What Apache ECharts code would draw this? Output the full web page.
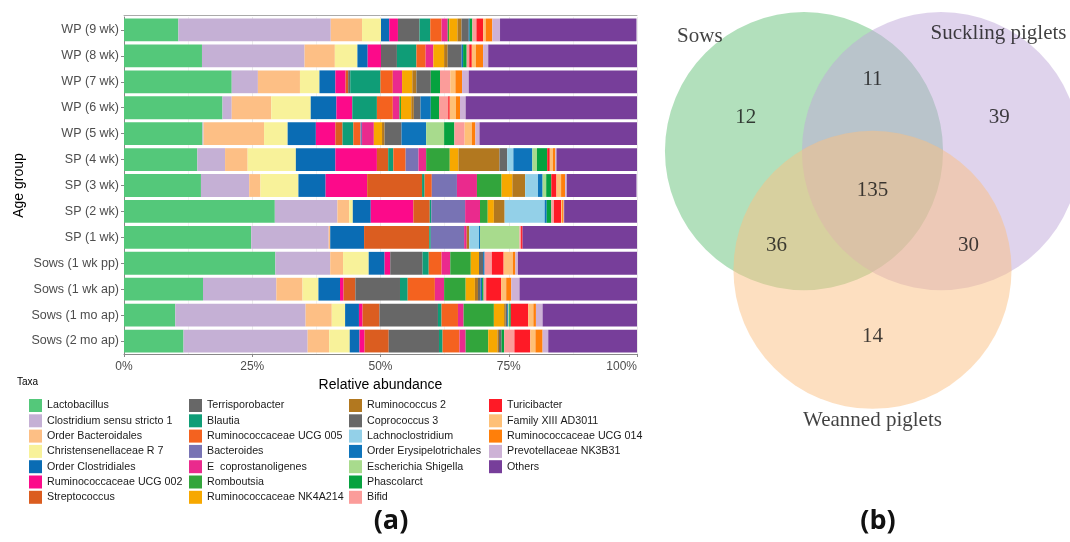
<!DOCTYPE html>
<html>
<head>
<meta charset="utf-8">
<script src="https://cdn.jsdelivr.net/npm/echarts@6/dist/echarts.min.js"></script>
<style>
  html, body { margin: 0; padding: 0; background: #fff; }
  #chart { width: 1070px; height: 542px; }
</style>
</head>
<body>
<div id="chart"></div>
<script>
// age groups, top to bottom
const groups = ['WP (9 wk)', 'WP (8 wk)', 'WP (7 wk)', 'WP (6 wk)', 'WP (5 wk)',
  'SP (4 wk)', 'SP (3 wk)', 'SP (2 wk)', 'SP (1 wk)',
  'Sows (1 wk pp)', 'Sows (1 wk ap)', 'Sows (1 mo ap)', 'Sows (2 mo ap)'];

// relative abundance (%) per taxon, same order as groups
const lactobacillus   = [10.6, 15.2, 21.0, 19.2, 15.3, 14.3, 15.0, 29.4, 24.8, 29.5, 15.4, 10.0, 11.6];
const clostridium     = [29.7, 20.0, 5.1, 1.8, 0.2, 5.4, 9.4, 12.2, 15.1, 10.7, 14.3, 25.4, 24.2];
const ordBacteroidales = [6.1, 5.9, 8.2, 7.7, 11.8, 4.4, 2.2, 2.3, 0.3, 2.5, 5.1, 5.1, 4.2];
const christensenella = [3.7, 4.4, 3.8, 7.7, 4.6, 9.4, 7.4, 0.7, 0, 5.0, 3.1, 2.6, 4.0];
const ordClostridiales = [1.6, 2.0, 3.1, 5.0, 5.5, 7.7, 5.3, 3.5, 6.6, 3.1, 4.2, 2.7, 1.9];
const rumUCG002       = [1.7, 2.6, 2.0, 3.1, 3.8, 8.1, 8.1, 8.3, 0, 1.1, 0.7, 0.7, 1.0];
const streptococcus   = [0, 0, 0.5, 0, 1.4, 2.2, 10.7, 3.2, 12.7, 0, 2.3, 3.3, 4.7];
const terrisporobacter = [4.2, 3.1, 0.4, 0, 0, 0, 0, 0, 0, 6.3, 8.7, 11.4, 9.8];
const blautia         = [2.1, 3.8, 5.9, 4.8, 2.1, 1.0, 0.5, 0.3, 0.3, 1.2, 1.5, 0.7, 0.7];
const rumUCG005       = [2.2, 1.8, 2.4, 3.1, 1.4, 2.4, 1.4, 0, 0, 2.5, 5.3, 3.2, 3.3];
const bacteroides     = [0, 0, 0, 0, 0.3, 2.5, 4.9, 6.6, 6.5, 0, 0, 0, 0];
const eCopro          = [1.2, 1.5, 1.8, 1.3, 2.3, 1.5, 3.9, 2.9, 0.5, 1.7, 1.8, 1.1, 1.2];
const romboutsia      = [0.3, 0, 0, 0.3, 0, 4.6, 4.8, 1.5, 0, 4.0, 4.2, 5.9, 4.4];
const rumNK4A214      = [1.6, 2.1, 2.0, 2.0, 1.6, 1.7, 2.1, 1.2, 0, 1.6, 1.8, 2.0, 1.8];
const ruminococcus2   = [0.8, 0.7, 0.8, 0.5, 0.5, 8.0, 2.5, 2.1, 0.5, 0, 0.6, 0.3, 0.3];
const coprococcus3    = [1.4, 2.7, 2.8, 1.3, 3.3, 1.5, 0, 0, 0, 0.8, 0.5, 0.3, 0.5];
const lachnoclostridium = [0, 0, 0, 0, 0, 1.2, 2.5, 7.8, 1.9, 0, 0, 0, 0];
const ordErysipelo    = [0.2, 0.3, 0, 2.0, 4.8, 3.7, 0.9, 0.4, 0.2, 0.3, 0.3, 0.2, 0];
const escherichia     = [0, 0, 0, 0, 3.5, 0.9, 0.7, 0, 7.7, 0, 0, 0.2, 0];
const phascolarct     = [0.5, 0.7, 1.8, 1.6, 2.0, 2.0, 1.0, 0.9, 0, 0, 0.3, 0.3, 0.5];
const bifid           = [0.8, 0.5, 2.0, 1.8, 2.0, 0, 0, 0.5, 0.3, 1.4, 0.5, 0, 2.0];
const turicibacter    = [1.3, 0.5, 0, 0.3, 0, 0.5, 1.0, 1.4, 0.3, 2.3, 2.9, 3.4, 3.1];
const familyXIII      = [0.5, 0.8, 1.0, 1.2, 1.4, 0.6, 0.9, 0.2, 0, 1.8, 1.0, 1.0, 1.0];
const rumUCG014       = [1.3, 1.4, 1.3, 0.8, 0.7, 0.5, 0.8, 0.3, 0, 0.5, 1.0, 0.5, 1.4];
const prevotellaceae  = [1.5, 1.0, 1.3, 1.1, 0.8, 0.2, 0.3, 0.1, 0, 0.5, 1.6, 1.3, 1.1];
const others          = [26.6, 29.0, 32.9, 33.5, 30.7, 15.8, 13.6, 14.2, 22.3, 23.2, 23.0, 18.6, 17.5];

const taxa = ['Lactobacillus', 'Clostridium sensu stricto 1', 'Order Bacteroidales', 'Christensenellaceae R 7',
  'Order Clostridiales', 'Ruminococcaceae UCG 002', 'Streptococcus',
  'Terrisporobacter', 'Blautia', 'Ruminococcaceae UCG 005', 'Bacteroides',
  'E  coprostanoligenes', 'Romboutsia', 'Ruminococcaceae NK4A214',
  'Ruminococcus 2', 'Coprococcus 3', 'Lachnoclostridium', 'Order Erysipelotrichales',
  'Escherichia Shigella', 'Phascolarct', 'Bifid',
  'Turicibacter', 'Family XIII AD3011', 'Ruminococcaceae UCG 014', 'Prevotellaceae NK3B31', 'Others'];
const abundance = [lactobacillus, clostridium, ordBacteroidales, christensenella, ordClostridiales,
  rumUCG002, streptococcus, terrisporobacter, blautia, rumUCG005, bacteroides, eCopro, romboutsia,
  rumNK4A214, ruminococcus2, coprococcus3, lachnoclostridium, ordErysipelo, escherichia, phascolarct,
  bifid, turicibacter, familyXIII, rumUCG014, prevotellaceae, others];

// venn counts
const vennSets = ['Sows', 'Suckling piglets', 'Weanned piglets'];
const vennRegions = [[0], [1], [2], [0, 1], [0, 2], [1, 2], [0, 1, 2]];
const vennCounts = [12, 39, 14, 11, 36, 30, 135];

// styling / layout
const palette = ['#54c87a', '#c5b0d5', '#fdbf85', '#f8f29a', '#0a6cb4', '#fc0a8a', '#db5d20',
  '#676767', '#0f9d77', '#f4621f', '#7873b4', '#ea2a8d', '#32a53c', '#f7a800',
  '#b2781f', '#686868', '#93d0e8', '#0e74bb', '#a8db8d', '#06a23f', '#fb9c9a',
  '#fe1a26', '#fec077', '#ff7f0a', '#cdb2d6', '#773e9a'];
const vennColors = ['#65c179', '#bfa7d9', '#fbbf81'];
const vennCenters = [[-0.5, 0.289], [0.5, 0.289], [0, -0.577]];
const vennRadius = 1.015;
const vennNameOffset = [[-0.76, 0.84], [0.42, 0.862], [0, -1.10]];
const legendCols = [24, 184, 344, 484];

const font = 'Liberation Sans';

const barSeries = taxa.map((name, i) => ({
  name: name,
  type: 'bar',
  stack: 'all',
  xAxisIndex: 0,
  yAxisIndex: 0,
  barWidth: '88%',
  itemStyle: { color: palette[i] },
  data: abundance[i]
}));

const regionPos = vennRegions.map(r => {
  let x = 0, y = 0;
  r.forEach(k => { x += vennCenters[k][0]; y += vennCenters[k][1]; });
  x /= r.length; y /= r.length;
  const f = r.length === 1 ? 1.85 : (r.length === 2 ? 2.8 : 1);
  return [x * f, y * f];
});

const legends = legendCols.map((left, c) => ({
  orient: 'vertical',
  left: left,
  top: 394,
  itemWidth: 13,
  itemHeight: 13,
  itemGap: 2.3,
  icon: 'rect',
  selectedMode: false,
  textStyle: { fontFamily: font, fontSize: 10.7, color: '#1a1a1a', lineHeight: 13 },
  data: taxa.slice(c * 7, c * 7 + 7)
}));

const option = {
  animation: false,
  backgroundColor: '#fff',
  title: [
    { text: 'Taxa', left: 12, top: 372, textStyle: { fontFamily: font, fontSize: 10, fontWeight: 'normal', color: '#000' } },
    { text: '(a)', left: 386, top: 503, textAlign: 'center', textStyle: { fontFamily: 'Open Sans', fontSize: 27, fontWeight: 'bold', color: '#111' } },
    { text: '(b)', left: 873, top: 503, textAlign: 'center', textStyle: { fontFamily: 'Open Sans', fontSize: 27, fontWeight: 'bold', color: '#111' } }
  ],
  legend: legends,
  grid: [
    { left: 124, top: 17, width: 513, height: 337 },
    { left: 640, top: 0, width: 430, height: 542 }
  ],
  xAxis: [
    {
      type: 'value', gridIndex: 0, min: 0, max: 100, interval: 25,
      name: 'Relative abundance', nameLocation: 'middle', nameGap: 21,
      nameTextStyle: { fontFamily: font, fontSize: 14, color: '#000' },
      axisLine: { show: true, lineStyle: { color: '#888' } },
      axisTick: { show: true, length: 3, lineStyle: { color: '#888' } },
      axisLabel: { formatter: '{value}%', fontFamily: font, fontSize: 12, color: '#4d4d4d', margin: 7, alignMaxLabel: 'right' },
      splitLine: { show: true, lineStyle: { color: '#ebebeb' } },
      minorTick: { show: false, splitNumber: 2 },
      minorSplitLine: { show: true, lineStyle: { color: '#f2f2f2' } }
    },
    {
      type: 'value', gridIndex: 0, min: 0, max: 100, position: 'top', offset: 2,
      axisLine: { show: true, lineStyle: { color: '#aaa' } },
      axisTick: { show: false }, axisLabel: { show: false }, splitLine: { show: false }
    },
    {
      type: 'value', gridIndex: 1, min: -1.697, max: 1.4416, show: false
    }
  ],
  yAxis: [
    {
      type: 'category', gridIndex: 0, data: groups, inverse: true,
      name: 'Age group', nameLocation: 'middle', nameGap: 98,
      nameTextStyle: { fontFamily: font, fontSize: 14, color: '#000' },
      axisLine: { show: true, lineStyle: { color: '#888' } },
      axisTick: { show: true, alignWithLabel: true, length: 3, lineStyle: { color: '#888' } },
      axisLabel: { fontFamily: font, fontSize: 12.5, color: '#4d4d4d', margin: 5 }
    },
    {
      type: 'value', gridIndex: 1, min: -2.564, max: 1.392, show: false
    }
  ],
  series: barSeries.concat([
    {
      type: 'custom',
      xAxisIndex: 2,
      yAxisIndex: 1,
      data: vennCenters.map(c => [c[0], c[1], vennRadius]),
      renderItem: function (params, api) {
        const c = api.coord([api.value(0), api.value(1)]);
        const r = api.size([api.value(2), 0])[0];
        return {
          type: 'circle',
          shape: { cx: c[0], cy: c[1], r: r },
          style: { fill: vennColors[params.dataIndex], opacity: 0.5 }
        };
      }
    },
    {
      type: 'scatter',
      xAxisIndex: 2,
      yAxisIndex: 1,
      symbolSize: 1,
      itemStyle: { color: 'rgba(0,0,0,0)' },
      z: 5,
      label: {
        show: true, position: 'inside',
        fontFamily: 'Liberation Serif', fontSize: 21, color: '#111',
        formatter: p => String(p.value[2])
      },
      data: regionPos.map((p, i) => [p[0], p[1], vennCounts[i]])
    },
    {
      type: 'scatter',
      xAxisIndex: 2,
      yAxisIndex: 1,
      symbolSize: 1,
      itemStyle: { color: 'rgba(0,0,0,0)' },
      z: 5,
      label: {
        show: true, position: 'inside',
        fontFamily: 'Liberation Serif', fontSize: 21, color: '#111',
        formatter: p => p.value[2]
      },
      data: vennSets.map((s, i) => [vennCenters[i][0] + vennNameOffset[i][0], vennCenters[i][1] + vennNameOffset[i][1], s])
    }
  ])
};

const chart = echarts.init(document.getElementById('chart'), null, { renderer: 'canvas' });
chart.setOption(option);
</script>
</body>
</html>
